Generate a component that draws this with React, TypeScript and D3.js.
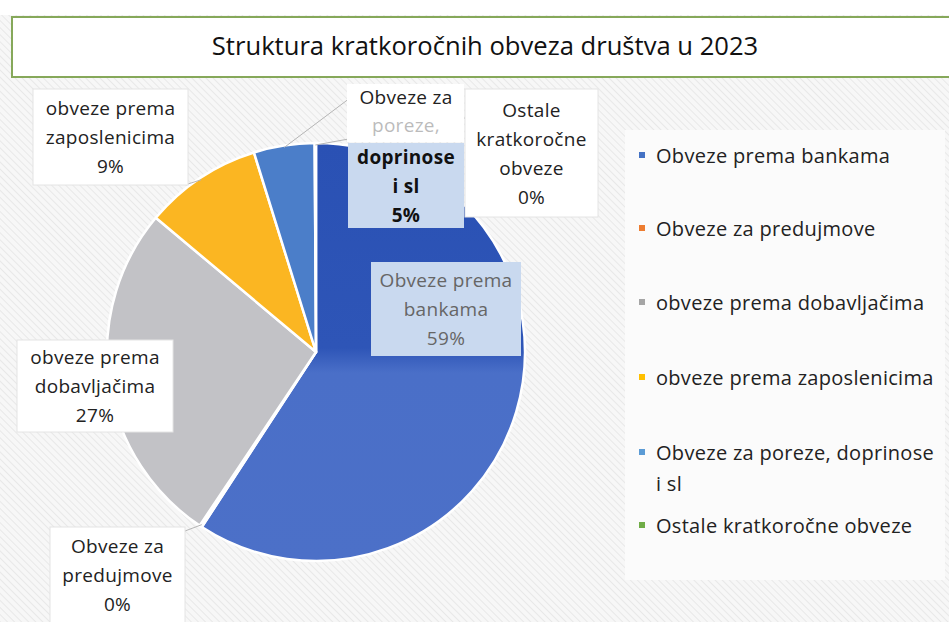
import React from "react";
import * as d3 from "d3";

const title = "Struktura kratkoročnih obveza društva u 2023";
const categories = [
  "Obveze prema bankama",
  "Obveze za predujmove",
  "obveze prema dobavljačima",
  "obveze prema zaposlenicima",
  "Obveze za poreze, doprinose i sl",
  "Ostale kratkoročne obveze",
];
const values = [59.2, 0.2, 26.7, 9.1, 4.7, 0.1];
const sliceColors = ["#4a6fc8", "#ed7d31", "#c2c2c6", "#fbb622", "#4b7ec9", "#70ad47"];
const legendColors = ["#4472c4", "#ed7d31", "#a5a5a5", "#ffc000", "#5b9bd5", "#70ad47"];
const legendLines = [
  ["Obveze prema bankama"],
  ["Obveze za predujmove"],
  ["obveze prema dobavljačima"],
  ["obveze prema zaposlenicima"],
  ["Obveze za poreze, doprinose", "i sl"],
  ["Ostale kratkoročne obveze"],
];
const labelLines = [
  ["Obveze prema", "bankama"],
  ["Obveze za", "predujmove"],
  ["obveze prema", "dobavljačima"],
  ["obveze prema", "zaposlenicima"],
  ["doprinose", "i sl"],
  ["Ostale", "kratkoročne", "obveze"],
];

// layout of label boxes (x, y, w, h) and leader end points
const labelBoxes = [
  { x: 371, y: 262, w: 150, h: 94, fill: "#c9d9ef", color: "#666", bold: false },
  { x: 50, y: 527, w: 135, h: 96, fill: "#ffffff", color: "#222", bold: false },
  { x: 17, y: 340, w: 156, h: 92, fill: "#ffffff", color: "#222", bold: false },
  { x: 33, y: 89, w: 155, h: 96, fill: "#ffffff", color: "#222", bold: false },
  { x: 348, y: 143, w: 116, h: 85, fill: "#c9d9ef", color: "#111", bold: true },
  { x: 465, y: 89, w: 133, h: 128, fill: "#ffffff", color: "#222", bold: false },
];
const leaderEnds: ([number, number] | null)[] = [null, [185, 531], null, [188, 184], [350, 98], [465, 118]];

const W = 949;
const H = 622;
const cx = 316;
const cy = 352;
const R = 209;
const FONT = "'Open Sans', 'Noto Sans', sans-serif";

export default function App() {
  const total = d3.sum(values);
  const pie = d3.pie<number>().sort(null).value((d) => d);
  const arcs = pie(values);
  const arc = d3.arc<d3.PieArcDatum<number>>().innerRadius(0).outerRadius(R);
  const pct = (v: number) => `${Math.round((v / total) * 100)}%`;
  const outerPt = (m: number, r: number): [number, number] => [cx + r * Math.sin(m), cy - r * Math.cos(m)];
  const lh = 29;
  const lfs = 19;

  return (
    <svg width={W} height={H} style={{ position: "absolute", left: 0, top: 0, display: "block" }}>
      <defs>
        <pattern id="hatch" width="5" height="5" patternUnits="userSpaceOnUse" patternTransform="rotate(-45)">
          <rect width="5" height="5" fill="#f7f7f7" />
          <line x1="0" y1="0" x2="0" y2="5" stroke="#e0e0e0" strokeWidth="1.3" />
        </pattern>
        <linearGradient id="bankGrad" gradientUnits="userSpaceOnUse" x1="0" y1={-R} x2="0" y2={R}>
          <stop offset="0%" stopColor="#2a51b4" />
          <stop offset="49%" stopColor="#2e55b7" />
          <stop offset="55%" stopColor="#4a6fc8" />
          <stop offset="100%" stopColor="#4c70c8" />
        </linearGradient>
      </defs>
      <rect x={0} y={0} width={W} height={H} fill="url(#hatch)" />
      <rect x={0} y={0} width={W} height={15} fill="#ffffff" />
      {/* title box */}
      <rect x={12} y={17} width={W} height={60} fill="#ffffff" stroke="#86a85a" strokeWidth={2} />
      <text x={485} y={45} textAnchor="middle" dominantBaseline="central" fontFamily={FONT} fontSize={25.6} fill="#111">
        {title}
      </text>
      {/* legend box */}
      <rect x={625} y={130} width={320} height={450} fill="#fbfbfb" />
      {categories.map((c, i) => {
        const ys = [155, 228, 302, 377, 452, 525];
        return (
          <g key={c}>
            <rect x={639} y={ys[i] - 3} width={6} height={6} fill={legendColors[i]} />
            {legendLines[i].map((t, j) => (
              <text key={j} x={656} y={ys[i] + j * 31} dominantBaseline="central" fontFamily={FONT} fontSize={20} letterSpacing={0.3} fill="#222">
                {t}
              </text>
            ))}
          </g>
        );
      })}
      {/* pie */}
      <g transform={`translate(${cx},${cy})`}>
        {arcs.map((a, i) => (
          <path
            key={i}
            d={arc(a) || ""}
            fill={i === 0 ? "url(#bankGrad)" : sliceColors[i]}
            stroke="#ffffff"
            strokeWidth={2.5}
            strokeLinejoin="round"
          />
        ))}
      </g>
      {/* leader lines */}
      {arcs.map((a, i) => {
        const e = leaderEnds[i];
        if (!e) return null;
        const p = outerPt((a.startAngle + a.endAngle) / 2, R - 2);
        return <line key={i} x1={p[0]} y1={p[1]} x2={e[0]} y2={e[1]} stroke="#b5b5b5" strokeWidth={1} />;
      })}
      {/* porezi upper white part */}
      <rect x={347} y={84} width={117} height={58} fill="#ffffff" />
      <text x={406} y={97} textAnchor="middle" dominantBaseline="central" fontFamily={FONT} fontSize={lfs} letterSpacing={0.3} fill="#222">
        Obveze za
      </text>
      <text x={406} y={125} textAnchor="middle" dominantBaseline="central" fontFamily={FONT} fontSize={lfs} letterSpacing={0.3} fill="#222" opacity={0.3}>
        poreze,
      </text>
      {/* bank callout pointer */}
      {(() => {
        const tip = outerPt(2 * Math.PI * 0.215, R - 4);
        return <polygon points={`464,355 503,355 ${tip[0]},${tip[1]}`} fill="#c9d9ef" />;
      })()}
      {/* label boxes */}
      {arcs.map((a, i) => {
        const b = labelBoxes[i];
        const lines = [...labelLines[i], pct(values[i])];
        const n = lines.length;
        const startY = b.y + b.h / 2 - ((n - 1) * lh) / 2;
        return (
          <g key={i}>
            <rect x={b.x} y={b.y} width={b.w} height={b.h} fill={b.fill} stroke={b.fill === "#ffffff" ? "#e4e4e4" : "none"} />
            {lines.map((t, j) => (
              <text
                key={j}
                x={b.x + b.w / 2}
                y={startY + j * lh}
                textAnchor="middle"
                dominantBaseline="central"
                fontFamily={FONT}
                fontSize={lfs}
                letterSpacing={0.3}
                fontWeight={b.bold ? 700 : 400}
                fill={b.color}
              >
                {t}
              </text>
            ))}
          </g>
        );
      })}
    </svg>
  );
}
